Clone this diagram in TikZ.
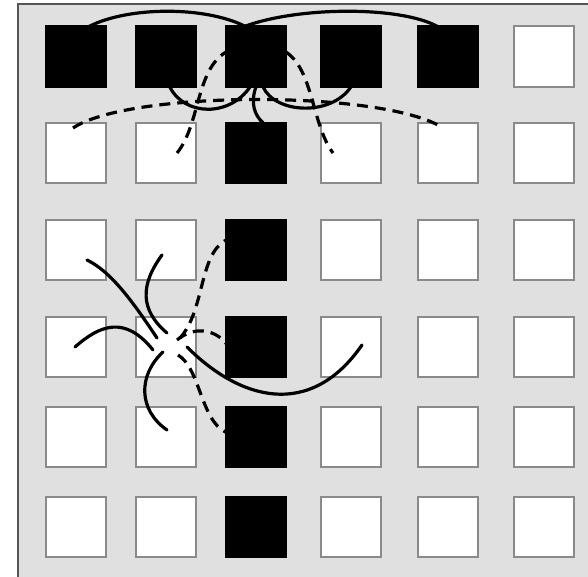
\documentclass[tikz,border=0pt]{standalone}
\usepackage{tikz}
\usetikzlibrary{calc}
\definecolor{gdpanel}{RGB}{224,224,224}
\definecolor{gdedge}{RGB}{85,85,85}
\definecolor{gdcell}{RGB}{138,138,138}
\tikzset{
  cell/.style={
    draw=gdcell, fill=white, line width=1.6pt,
    minimum size=60.5pt, inner sep=0pt, outer sep=0pt
  },
  link/.style={draw=black, line width=3.2pt, line cap=round},
  dlink/.style={link, line cap=butt, dash pattern=on 11pt off 7pt}
}

\begin{document}
\begin{tikzpicture}[x=1pt,y=1pt]
  \useasboundingbox (0,0) rectangle (588,577);
  \fill[gdpanel] (18,0) rectangle (588,573);
  \draw[gdedge, line width=1.4pt] (18,0) -- (18,573) -- (588,573);
  % board
  \foreach \c/\x in {1/76,2/166,3/256,4/351,5/448,6/544}
    \foreach \r/\y in {1/520.5,2/424,3/327,4/230,5/140,6/50}
      \node[cell] (s-\c-\r) at (\x,\y) {};
  \foreach \c/\r in {1/1,2/1,3/1,4/1,5/1,3/2,3/3,3/4,3/5,3/6}
    \filldraw[black, line width=1.6pt] (s-\c-\r.south west) rectangle (s-\c-\r.north east);
  % top row links
  \draw[link] (s-1-1.66) .. controls +(40,20) and +(-40,20) .. (s-3-1.110);
  \draw[link] (s-3-1.110) .. controls +(55,20) and +(-37,20) .. (s-5-1.110);
  \draw[link] (s-2-1.277) .. controls +(15,-30) and +(-20,-30) .. (s-3-1.259);
  \draw[link] (s-3-1.south) .. controls +(-6,-17) and +(-8,7) .. (s-3-2.77);
  \draw[link] (s-3-1.283) .. controls +(12,-27) and +(-20,-30) .. (s-4-1.south);
  \draw[dlink] ($(s-1-2)+(-3,25)$) .. controls +(57,38) and +(-58,38) .. ($(s-5-2)+(-5,25)$);
  \draw[dlink] ($(s-2-2)+(11,0)$) .. controls +(23,28) and +(-30,-18) .. (s-3-1.172);
  \draw[dlink] (s-3-1.8) .. controls +(27,-18) and +(-21,28) .. ($(s-4-2)+(-18,0)$);
  % links round the middle cell
  \draw[link] ($(s-1-3)+(11,-10)$) .. controls +(25,-12) and +(-22,33) .. ($(s-2-4)+(-9,9)$);
  \draw[link] ($(s-2-3)+(-4,-5)$) .. controls +(-22,-30) and +(-27,23) .. ($(s-2-4)+(1,14)$);
  \draw[link] ($(s-1-4)+(-1,0)$) .. controls +(25,22) and +(-28,35) .. ($(s-2-4)+(-13,-3)$);
  \draw[link] ($(s-2-4)+(-3,-5)$) .. controls +(-25,-23) and +(-29,20) .. ($(s-2-5)+(1,7)$);
  \draw[link] ($(s-2-4)+(21,0)$) .. controls +(53,-53) and +(-52,-75) .. ($(s-4-4)+(11,2)$);
  \draw[dlink] ($(s-2-4)+(14,9)$) .. controls +(25,28) and +(-27,-15) .. (s-3-3.162);
  \draw[dlink] ($(s-2-4)+(11,7)$) .. controls +(18,15) and +(-10,13) .. (s-3-4.173);
  \draw[dlink] ($(s-2-4)+(12,-8)$) .. controls +(22,-13) and +(-25,12) .. (s-3-5.171);
\end{tikzpicture}
\end{document}
